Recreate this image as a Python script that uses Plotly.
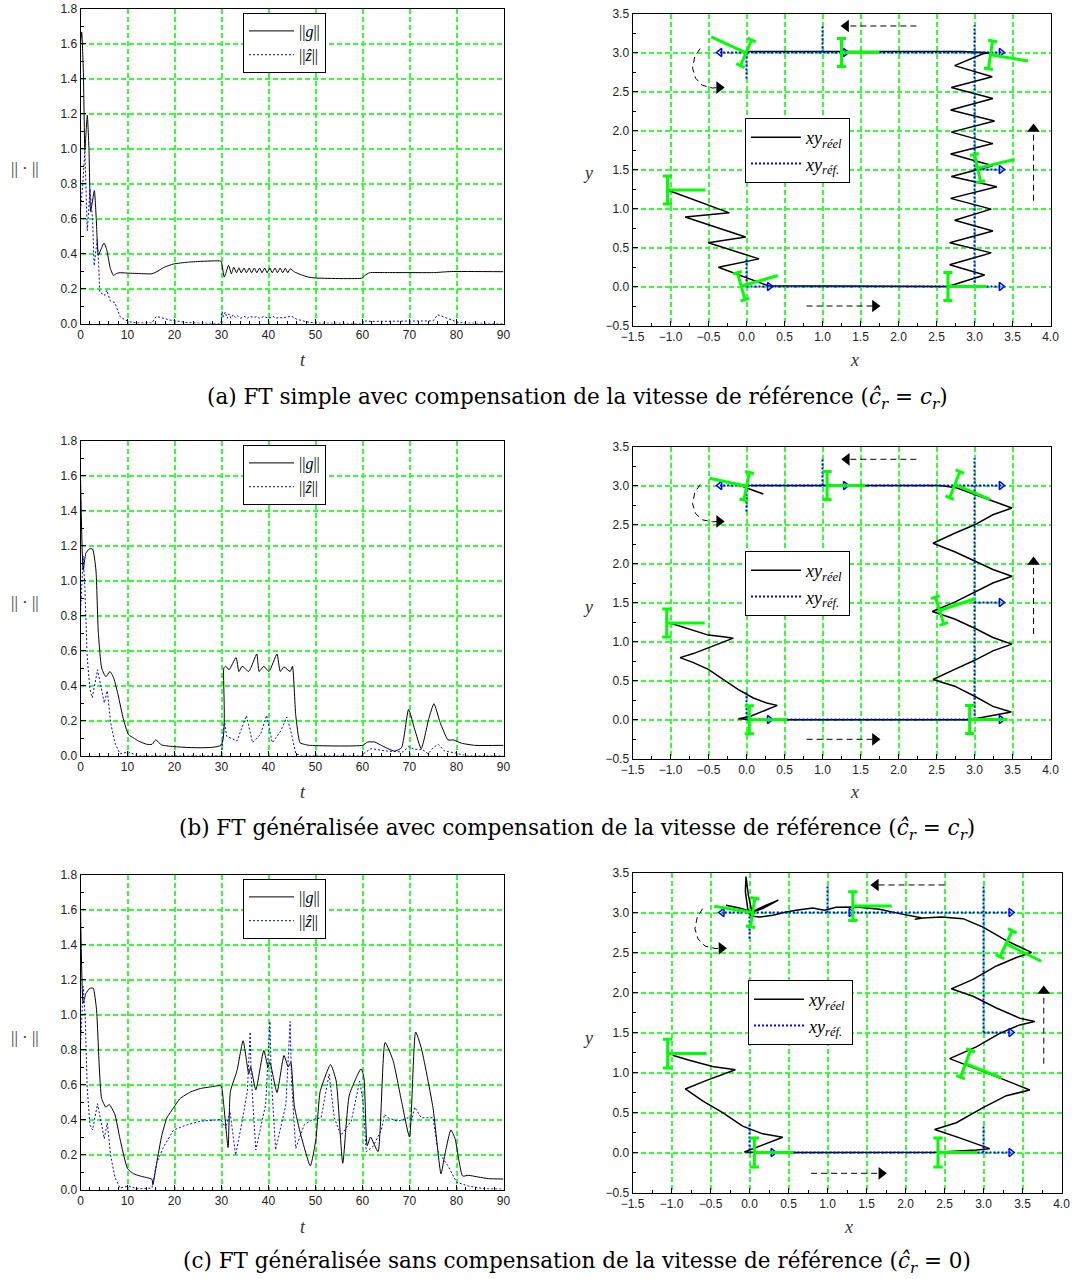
import math
import plotly.graph_objects as go

# ---------------- left panels: norms vs t ----------------
t_g_a = [0, 0.25, 0.6, 0.93, 1.2, 1.45, 1.8, 2.15, 2.55, 2.95, 3.35, 3.8, 4.3, 5.0, 5.6, 6.3, 7.0, 7.6, 8.2, 10,
         13, 15.2, 16.5, 17.7, 19.8, 22.7, 25.5, 29.8, 30.0, 30.6, 31.5, 32.1, 32.6, 33.2, 33.7, 34.2, 34.8, 35.3,
         35.9, 36.4, 37.0, 37.5, 38.1, 38.6, 39.2, 39.7, 40.3, 40.8, 41.4, 41.9, 42.5, 43.0, 43.6, 44.1, 44.6,
         45.5, 47, 48.5, 50, 60, 60.5, 61.5, 65, 75.4, 77, 79, 90]
g_a = [1.6, 1.665, 1.45, 0.99, 1.1, 1.19, 1.0, 0.64, 0.7, 0.76, 0.6, 0.39, 0.42, 0.46, 0.42, 0.32, 0.275, 0.285, 0.29, 0.288,
       0.285, 0.284, 0.30, 0.32, 0.34, 0.35, 0.355, 0.357, 0.35, 0.265, 0.332, 0.284, 0.322, 0.29, 0.318, 0.29, 0.317, 0.29,
       0.317, 0.29, 0.317, 0.29, 0.317, 0.29, 0.317, 0.29, 0.317, 0.29, 0.317, 0.29, 0.317, 0.29, 0.316, 0.29, 0.313,
       0.295, 0.278, 0.265, 0.26, 0.26, 0.275, 0.29, 0.291, 0.291, 0.294, 0.297, 0.296]
t_z_a = [0, 0.5, 0.93, 1.2, 1.43, 1.75, 2.0, 2.3, 2.56, 2.9, 3.2, 3.56, 3.85, 4.1, 4.6, 5.1, 5.6, 6.3, 7.3, 8.4,
         9.5, 10.5, 12, 15.2, 15.8, 16.2, 17, 19, 22.7, 25, 29.9, 30.1, 30.4, 30.8, 31.2, 31.6, 32, 32.5, 33, 33.5,
         34, 35, 35.5, 36, 37, 37.5, 38, 39, 40, 41, 41.5, 42.5, 43, 44, 45, 46, 48, 50, 60, 60.2,
         62, 70, 75, 76, 77, 79, 80.5, 82, 90]
z_a = [0.65, 0.8, 0.99, 0.8, 0.53, 0.65, 0.77, 0.68, 0.6, 0.33, 0.4, 0.48, 0.35, 0.18, 0.17, 0.16, 0.19, 0.13, 0.12, 0.04,
       0.02, 0.01, 0.003, 0.003, 0.03, 0.04, 0.035, 0.02, 0.005, 0.002, 0.0, 0.07, 0.04, 0.065, 0.03, 0.055, 0.03, 0.05, 0.035, 0.045,
       0.03, 0.04, 0.03, 0.04, 0.035, 0.04, 0.03, 0.04, 0.03, 0.04, 0.03, 0.035, 0.03, 0.038, 0.04, 0.025, 0.01, 0.002, 0.0, 0.015,
       0.012, 0.015, 0.015, 0.05, 0.04, 0.02, 0.005, 0.002, 0.0]

t_g_b = [0, 0.57, 1.14, 1.85, 2.57, 3.28, 3.78, 4.5, 5.4, 6.27, 7.1, 8.05, 9.1, 10.2, 11.3, 12.3, 14.1, 15.2, 16.0, 17.3,
         29.9, 30.5, 30.9, 31.6, 33.1, 33.7, 34.4, 35.8, 37.5, 38.0, 39.0, 40.1, 41.8, 42.5, 43.3, 44.6, 45.1, 45.8,
         46.7, 47.6, 48.7, 60, 61.1, 62.6, 64.0, 66.8, 68.3, 69.8, 71.1, 72.5, 74.1, 75.2, 76.5, 78.2, 79.3, 81.1, 83.9, 90]
g_b = [1.6, 1.06, 1.156, 1.18, 1.18, 1.06, 0.71, 0.5, 0.45, 0.48, 0.44, 0.34, 0.21, 0.12, 0.10, 0.083, 0.064, 0.064, 0.089, 0.06,
       0.06, 0.5, 0.51, 0.49, 0.56, 0.48, 0.51, 0.48, 0.58, 0.48, 0.51, 0.48, 0.58, 0.48, 0.506, 0.48, 0.51, 0.23,
       0.073, 0.064, 0.058, 0.058, 0.077, 0.077, 0.058, 0.025, 0.044, 0.263, 0.15, 0.039, 0.21, 0.296, 0.19, 0.089, 0.089, 0.07, 0.058, 0.058]
t_z_b = [0, 0.57, 0.93, 1.43, 2.0, 2.5, 3.63, 4.5, 5.06, 5.7, 6.4, 7.3, 8.4, 10.2, 12, 30, 30.6, 31.1, 33.3, 35.3,
         36.6, 38.3, 39.6, 40.8, 42.6, 43.9, 44.75, 45.8, 46.9, 60, 60.4, 61.8, 65.4, 68.6, 69.8, 71.1, 72.7, 74, 75, 76.1,
         77.5, 79.7, 81.8, 90]
z_b = [0.81, 1.14, 0.96, 0.56, 0.38, 0.33, 0.49, 0.36, 0.3, 0.37, 0.19, 0.073, 0.01, 0.02, 0.0, 0.0, 0.2, 0.11, 0.083, 0.228,
       0.073, 0.12, 0.23, 0.073, 0.14, 0.22, 0.14, 0.01, 0.0, 0.0, 0.015, 0.039, 0.025, 0.02, 0.05, 0.035, 0.035, 0.01, 0.044, 0.064,
       0.025, 0.015, 0.0, 0.0]

t_g_c = [0, 0.57, 1.14, 2.0, 2.7, 3.4, 4.0, 4.5, 5.4, 6.1, 7.3, 8.4, 10.0, 11.3, 12.7, 15.2, 15.4, 16.2, 17.3, 18.4,
         19.8, 21.2, 23.4, 25.5, 27.6, 29.9, 30.4, 31.4, 31.9, 33.3, 34.6, 35.8, 36.2, 37.3, 39.0, 39.9, 40.3, 41.8, 43.3, 44.2,
         44.75, 45.5, 46.9, 48.9, 50.1, 51.0, 53.2, 54.4, 55.8, 57.2, 59.7, 60.3, 61.0, 61.7, 63.3, 64.8, 66.5, 68.3, 70.0, 71.3,
         72.5, 75.0, 76.7, 77.5, 78.8, 79.7, 81.3, 82.5, 84.7, 86.8, 90]
g_c = [1.62, 1.065, 1.12, 1.15, 1.15, 1.03, 0.7, 0.52, 0.47, 0.486, 0.43, 0.29, 0.12, 0.09, 0.077, 0.058, 0.027, 0.15, 0.31, 0.41,
       0.467, 0.52, 0.557, 0.577, 0.586, 0.592, 0.505, 0.24, 0.56, 0.68, 0.85, 0.66, 0.7, 0.57, 0.795, 0.7, 0.727, 0.554, 0.766, 0.7,
       0.727, 0.476, 0.31, 0.135, 0.29, 0.56, 0.714, 0.62, 0.15, 0.54, 0.69, 0.64, 0.25, 0.3, 0.216, 0.84, 0.737, 0.505, 0.3, 0.9,
       0.81, 0.467, 0.09, 0.197, 0.34, 0.29, 0.077, 0.081, 0.071, 0.062, 0.06]
t_z_c = [0, 0.57, 1.0, 1.43, 2.0, 2.56, 3.63, 4.5, 5.06, 5.7, 6.4, 7.3, 8.4, 10.2, 12, 15.2, 16.2, 17.7, 19.8, 22.7,
         25.5, 29.9, 30.9, 31.8, 33.0, 34.4, 35.5, 36.1, 36.3, 37.3, 39.4, 40.3, 40.6, 41.5, 43.7, 44.6, 44.9, 45.8, 47.6, 49.4,
         51.2, 52.9, 54.0, 55.4, 57.6, 59.4, 60.1, 60.8, 62.2, 64.0, 64.7, 65.4, 67.5, 69.7, 70.5, 71.1, 72.5, 75.0, 76.1, 78.2,
         80.0, 82.5, 86, 90]
z_c = [0.81, 1.16, 0.99, 0.58, 0.37, 0.34, 0.49, 0.37, 0.29, 0.38, 0.197, 0.071, 0.008, 0.02, 0.004, 0.008, 0.15, 0.245, 0.34, 0.37,
       0.39, 0.4, 0.35, 0.447, 0.197, 0.39, 0.56, 0.9, 0.66, 0.226, 0.486, 0.96, 0.64, 0.226, 0.486, 0.96, 0.62, 0.235, 0.37, 0.4,
       0.41, 0.66, 0.41, 0.31, 0.39, 0.62, 0.505, 0.216, 0.245, 0.34, 0.43, 0.41, 0.39, 0.41, 0.4, 0.47, 0.41, 0.41, 0.216, 0.135,
       0.042, 0.02, 0.004, 0.002]

# ---------------- right panels: trajectories ----------------
xy_a_x = [-1.04, -0.226, -0.808, -0.011, -0.502, 0.164, -0.37, 0.287, 2.651, 3.133, 2.673, 3.22, 2.673, 3.242, 2.739,
          3.22, 2.686, 3.295, 2.695, 3.242, 2.686, 3.242, 2.695, 3.264, 2.686, 3.242, 2.695, 3.233, 2.739, 3.111, 3.198,
          2.848, 0.0, -0.011]
xy_a_y = [1.237, 0.944, 0.892, 0.634, 0.561, 0.354, 0.246, 0.009, 0.0, 0.147, 0.28, 0.431, 0.56, 0.711, 0.85,
          0.992, 1.13, 1.28, 1.41, 1.548, 1.698, 1.832, 1.979, 2.121, 2.263, 2.41, 2.552, 2.69, 2.832, 2.983, 2.996,
          3.013, 3.013, 3.004]

xy_b_x = [-0.996, -0.742, -0.502, -0.305, -0.173, -0.436, -0.699, -0.874, -0.699, -0.502, -0.305, -0.107, 0.09, 0.265,
          0.405, 0.221, 0.046, -0.107, 0.09, 2.936, 3.199, 3.483, 3.242, 3.002, 2.739, 2.454, 2.739, 3.002, 3.242, 3.492,
          3.242, 3.024, 2.739, 2.445, 2.739, 3.002, 3.242, 3.492, 3.242, 3.024, 2.739, 2.454, 2.739, 3.002, 3.242, 3.492,
          3.242, 3.002, 2.761, 2.542, 0.002, -0.042, 0.221]
xy_b_y = [1.233, 1.16, 1.082, 1.06, 1.043, 0.944, 0.845, 0.793, 0.729, 0.642, 0.513, 0.384, 0.276, 0.211,
          0.181, 0.112, 0.039, 0.009, -0.004, -0.004, 0.039, 0.095, 0.168, 0.298, 0.427, 0.513, 0.642, 0.759, 0.88, 0.966,
          1.052, 1.16, 1.289, 1.384, 1.504, 1.634, 1.75, 1.836, 1.923, 2.022, 2.151, 2.259, 2.388, 2.496, 2.625, 2.711,
          2.797, 2.884, 2.97, 3.0, 3.0, 2.983, 2.892]

xy_c_x = [-0.986, -0.772, -0.473, -0.182, -0.558, -0.824, -0.601, -0.344, -0.088, 0.169, 0.426, 0.126, -0.066, 0.126,
          2.395, 2.908, 3.08, 2.694, 2.373, 2.652, 2.994, 3.294, 3.593, 3.294, 2.951, 2.694, 2.566, 2.908, 3.208, 3.465,
          3.657, 3.465, 3.165, 2.866, 2.587, 2.866, 3.165, 3.422, 3.615, 3.294, 2.994, 2.737, 2.459, 2.224, 2.117, 2.202,
          1.924, 1.667, 1.368, 1.111, 0.961, 0.811, 0.597, 0.469, 0.298, 0.126, 0.019, -0.023, -0.053, -0.045, -0.015,
          0.032, 0.212, 0.37, 0.169, 0.04, -0.13, -0.301]
xy_c_y = [1.215, 1.152, 1.076, 1.034, 0.899, 0.794, 0.646, 0.499, 0.33, 0.233, 0.191, 0.077, 0.006, 0.0,
          0.002, 0.031, 0.048, 0.183, 0.288, 0.372, 0.562, 0.71, 0.781, 0.899, 1.026, 1.131, 1.173, 1.321, 1.489, 1.595,
          1.637, 1.679, 1.806, 1.953, 2.046, 2.164, 2.332, 2.438, 2.501, 2.649, 2.817, 2.923, 2.944, 2.931, 2.914, 2.935,
          2.986, 3.04, 3.07, 3.066, 3.028, 3.057, 3.028, 3.007, 2.965, 2.944, 2.956, 3.049, 3.26, 3.45, 3.218,
          3.007, 3.091, 3.154, 3.049, 3.007, 3.057, 3.091]

# reference path (dotted blue) segments
ref_ab_x = [0, 0, None, 0, 3.35, None, 3, 3, None, 3, 3.35, None, 3.35, -0.35, None, 1, 1, None, 0, 0]
ref_ab_y = [0.35, 0, None, 0, 0, None, 0, 3.35, None, 1.5, 1.5, None, 3, 3, None, 3, 3.35, None, 3, 2.65]
ref_c_x = [0, 0, None, 0, 3.35, None, 3, 3, None, 3, 3, None, 3, 3.35, None, 3.35, -0.35, None, 1, 1, None, 0, 0]
ref_c_y = [0.35, 0, None, 0, 0, None, 0, 0.35, None, 1.5, 3.35, None, 1.5, 1.5, None, 3, 3, None, 3, 3.35, None, 3, 2.65]
ref_head_x = [0.3, 3.35, 3.35, 3.35, 1.3, -0.35]
ref_head_y = [0, 0, 1.5, 3, 3, 3]
ref_head_sym = ["triangle-right", "triangle-right", "triangle-right", "triangle-right", "triangle-right", "triangle-left"]

# robot poses (x, y, heading in degrees)
rob_a_x = [-1.04, -0.07, 2.65, 3.04, 3.21, 1.25, -0.007]
rob_a_y = [1.237, 0.004, 0.0, 1.517, 2.97, 3.0, 2.996]
rob_a_th = [0, 16, 0, 13, -9, 0, 156]
rob_b_x = [-1.05, 0.037, 2.936, 2.54, 2.74, 1.06, 0.002]
rob_b_y = [1.237, -0.004, 0.0, 1.397, 3.01, 3.0, 2.99]
rob_b_th = [0, 0, 0, 18, -22, 0, 168]
rob_c_x = [-1.05, 0.062, 2.416, 2.77, 3.29, 1.325, 0.04]
rob_c_y = [1.237, 0.0, 0.0, 1.11, 2.61, 3.08, 3.0]
rob_c_th = [0, 0, 0, -21, -26, 0, 171]

# motion-direction arrows (dashed): bottom, right, top, curved
arr_a = dict(bx=[0.79, 1.69], by=[-0.25, -0.25], rx=[3.777, 3.777], ry=[1.1, 2.02],
             tx=[2.235, 1.31], ty=[3.34, 3.34],
             cx=[-0.61, -0.68, -0.71, -0.67, -0.58, -0.45, -0.36], cy=[3.05, 2.95, 2.8, 2.67, 2.58, 2.545, 2.55])
arr_b = dict(bx=[0.79, 1.69], by=[-0.254, -0.254], rx=[3.777, 3.777], ry=[1.095, 2.02],
             tx=[2.235, 1.32], ty=[3.336, 3.336],
             cx=[-0.61, -0.68, -0.71, -0.67, -0.58, -0.45, -0.36], cy=[3.013, 2.91, 2.767, 2.64, 2.56, 2.535, 2.539])
arr_c = dict(bx=[0.79, 1.69], by=[-0.26, -0.26], rx=[3.773, 3.773], ry=[1.11, 2.02],
             tx=[2.5, 1.62], ty=[3.344, 3.344],
             cx=[-0.6, -0.67, -0.7, -0.66, -0.57, -0.44, -0.36], cy=[3.049, 2.94, 2.796, 2.67, 2.58, 2.55, 2.552])

captions = [
    "(a) FT simple avec compensation de la vitesse de référence (<i>ĉ<sub>r</sub></i> = <i>c<sub>r</sub></i>)",
    "(b) FT généralisée avec compensation de la vitesse de référence (<i>ĉ<sub>r</sub></i> = <i>c<sub>r</sub></i>)",
    "(c) FT généralisée sans compensation de la vitesse de référence (<i>ĉ<sub>r</sub></i> = 0)",
]

# ---------------- figure ----------------
W, H = 1092, 1279
fig = go.Figure()

GRID = "#33ff33"
GREEN = "#00ff00"
BLUE = "#0000ff"
SERIF = "Liberation Serif"
SANS = "Liberation Sans"


def px_x(p):
    return p / W


def px_y(p):
    return 1 - p / H


left_dom_x = [px_x(80.5), px_x(503.5)]
right_dom_x = [[px_x(632.5), px_x(1050.5)], [px_x(632.5), px_x(1050.5)], [px_x(632.5), px_x(1061.5)]]
left_dom_y = [[px_y(323.5), px_y(8.5)], [px_y(755.5), px_y(440.5)], [px_y(1189.5), px_y(874.5)]]
right_dom_y = [[px_y(325.5), px_y(13.5)], [px_y(758.5), px_y(446.5)], [px_y(1192.5), px_y(872.5)]]


def axis(domain, rng, dtick, mdtick, anchor, fmt):
    return dict(domain=domain, range=rng, tickmode="linear", tick0=0, dtick=dtick,
                ticks="inside", ticklen=5, tickwidth=1, tickcolor="black",
                minor=dict(dtick=mdtick, ticks="inside", ticklen=3, tickwidth=1, tickcolor="black", showgrid=False),
                showgrid=True, gridcolor=GRID, griddash="5px,3px", gridwidth=1.5,
                showline=True, linecolor="black", linewidth=1, mirror=True, zeroline=False,
                anchor=anchor, tickformat=fmt, automargin=False,
                tickfont=dict(family=SANS, size=12, color="#222"))


def robots(xs, ys, ths, h=0.18, s=0.06, L=0.5):
    X, Y = [], []
    for x0, y0, th in zip(xs, ys, ths):
        c, sn = math.cos(math.radians(th)), math.sin(math.radians(th))
        px_, py_ = -sn, c
        ax_, ay_ = x0 + h * px_, y0 + h * py_
        bx_, by_ = x0 - h * px_, y0 - h * py_
        X += [ax_, bx_, None, ax_ - s * c, ax_ + s * c, None, bx_ - s * c, bx_ + s * c, None, x0, x0 + L * c, None]
        Y += [ay_, by_, None, ay_ - s * sn, ay_ + s * sn, None, by_ - s * sn, by_ + s * sn, None, y0, y0 + L * sn, None]
    return X, Y


left_sets = [(t_g_a, g_a, t_z_a, z_a), (t_g_b, g_b, t_z_b, z_b), (t_g_c, g_c, t_z_c, z_c)]
right_sets = [(xy_a_x, xy_a_y, ref_ab_x, ref_ab_y, rob_a_x, rob_a_y, rob_a_th, arr_a),
              (xy_b_x, xy_b_y, ref_ab_x, ref_ab_y, rob_b_x, rob_b_y, rob_b_th, arr_b),
              (xy_c_x, xy_c_y, ref_c_x, ref_c_y, rob_c_x, rob_c_y, rob_c_th, arr_c)]

layout = {}
for r in range(3):
    li = 2 * r + 1
    ri = 2 * r + 2
    lx, ly = f"x{li}", f"y{li}"
    rx, ry = f"x{ri}", f"y{ri}"
    layout[f"xaxis{li}"] = axis(left_dom_x, [0, 90], 10, 2, ly, "d")
    layout[f"yaxis{li}"] = axis(left_dom_y[r], [0, 1.8], 0.2, 0.1, lx, ".1f")
    layout[f"xaxis{ri}"] = axis(right_dom_x[r], [-1.5, 4.0], 0.5, 0.25, ry, ".1f")
    layout[f"yaxis{ri}"] = axis(right_dom_y[r], [-0.5, 3.5], 0.5, 0.25, rx, ".1f")

    leg_l = "legend" if li == 1 else f"legend{li}"
    leg_r = f"legend{ri}"
    tg, g, tz, z = left_sets[r]
    fig.add_trace(go.Scatter(x=tg, y=g, mode="lines", name="||<i>g</i>||",
                             line=dict(color="black", width=1, shape="spline", smoothing=0.5),
                             xaxis=lx, yaxis=ly, legend=leg_l))
    fig.add_trace(go.Scatter(x=tz, y=z, mode="lines", name="||<i>ẑ</i>||",
                             line=dict(color=BLUE, width=1, dash="2px,2px"),
                             xaxis=lx, yaxis=ly, legend=leg_l))

    xr, yr, refx, refy, rbx, rby, rbt, arr = right_sets[r]
    fig.add_trace(go.Scatter(x=xr, y=yr, mode="lines", name="<i>xy</i><sub><i>réel</i></sub>",
                             line=dict(color="black", width=1.5),
                             xaxis=rx, yaxis=ry, legend=leg_r))
    fig.add_trace(go.Scatter(x=refx, y=refy, mode="lines", name="<i>xy</i><sub><i>réf.</i></sub>",
                             line=dict(color=BLUE, width=2, dash="2px,2px"),
                             xaxis=rx, yaxis=ry, legend=leg_r))
    fig.add_trace(go.Scatter(x=ref_head_x, y=ref_head_y, mode="markers", showlegend=False,
                             marker=dict(symbol=[s + "-open" for s in ref_head_sym], size=7, color=BLUE,
                                         line=dict(color=BLUE, width=1.5)),
                             xaxis=rx, yaxis=ry))
    gx, gy = robots(rbx, rby, rbt)
    fig.add_trace(go.Scatter(x=gx, y=gy, mode="lines", showlegend=False,
                             line=dict(color=GREEN, width=3), xaxis=rx, yaxis=ry))
    for kx, ky, sym in (("bx", "by", "triangle-right"), ("rx", "ry", "triangle-up"),
                        ("tx", "ty", "triangle-left"), ("cx", "cy", "triangle-right")):
        fig.add_trace(go.Scatter(x=arr[kx], y=arr[ky], mode="lines", showlegend=False,
                                 line=dict(color="black", width=1, dash="6px,4px"), xaxis=rx, yaxis=ry))
        fig.add_trace(go.Scatter(x=[arr[kx][-1]], y=[arr[ky][-1]], mode="markers", showlegend=False,
                                 marker=dict(symbol=sym, size=11, color="black"), xaxis=rx, yaxis=ry))

    ly_top = [13, 445, 879][r]
    layout[leg_l] = dict(x=px_x(243), y=px_y(ly_top), xanchor="left", yanchor="top",
                         bordercolor="black", borderwidth=1, bgcolor="white",
                         font=dict(family=SERIF, size=16, color="black"),
                         tracegroupgap=0, itemwidth=45)
    ry_top = [118, 551, 980][r]
    rx_left = [745, 745, 748][r]
    layout[leg_r] = dict(x=px_x(rx_left), y=px_y(ry_top), xanchor="left", yanchor="top",
                         bordercolor="black", borderwidth=1, bgcolor="white",
                         font=dict(family=SERIF, size=18, color="black"),
                         tracegroupgap=0, itemwidth=50)

annotations = []
t_y = [360, 792, 1227]
n_y = [168, 602, 1037]
yl_y = [173, 607, 1038]
xl_x = [854, 854, 848]
cap_y = [398, 830, 1262]


def label(xp, yp, text, font):
    return dict(x=px_x(xp), y=px_y(yp), xref="paper", yref="paper", text=text, showarrow=False,
                xanchor="center", yanchor="middle", font=font)


for r in range(3):
    annotations.append(label(303, t_y[r], "<i>t</i>", dict(family=SERIF, size=18, color="#333")))
    annotations.append(label(xl_x[r], t_y[r], "<i>x</i>", dict(family=SERIF, size=18, color="#333")))
    annotations.append(label(25, n_y[r], "|| · ||", dict(family=SERIF, size=17, color="#333")))
    annotations.append(label(588, yl_y[r], "<i>y</i>", dict(family=SERIF, size=18, color="#333")))
    annotations.append(label(577, cap_y[r], captions[r], dict(family="DejaVu Serif", size=21.5, color="black")))

fig.update_layout(width=W, height=H, margin=dict(l=0, r=0, t=0, b=0),
                  paper_bgcolor="white", plot_bgcolor="white", annotations=annotations,
                  hovermode=False, **layout)

fig.write_html("out.html")
